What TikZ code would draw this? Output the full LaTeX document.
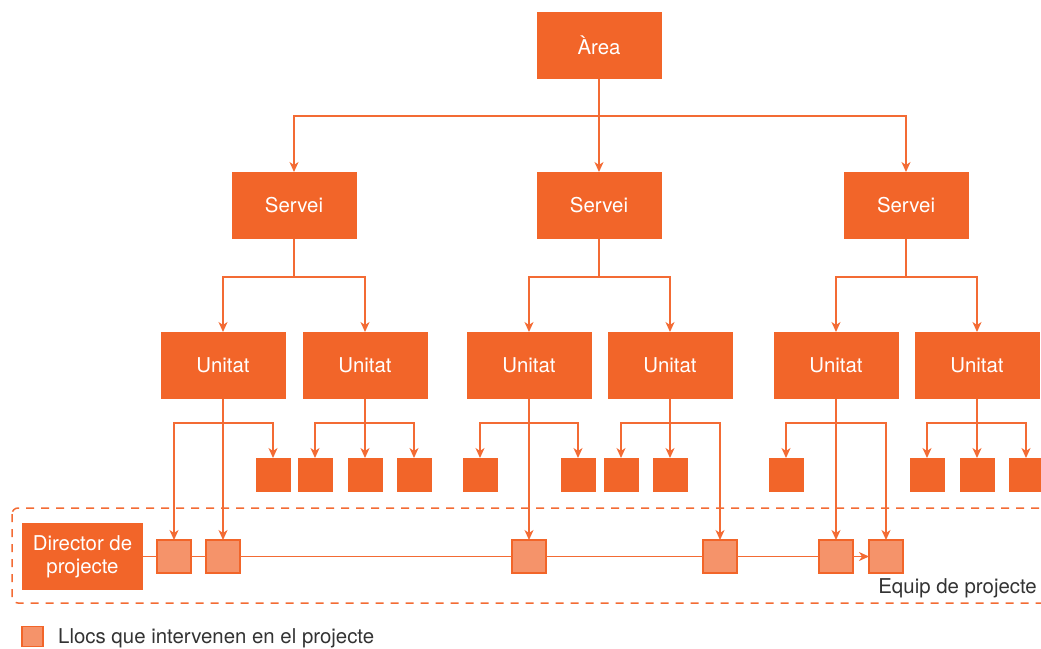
\documentclass[tikz,border=0pt]{standalone}
\usepackage{fontspec}
\setmainfont{TeX Gyre Heros}
\usetikzlibrary{arrows.meta}
\definecolor{org}{HTML}{F26529}
\definecolor{orgline}{HTML}{F36B34}
\definecolor{orglight}{HTML}{F5936A}
\definecolor{txtgray}{HTML}{333333}
\begin{document}
\begin{tikzpicture}[x=1pt,y=-1pt,
  labelfont/.style={font=\fontsize{20.4}{23}\selectfont},
  unitbox/.style={fill=org, minimum width=125pt, minimum height=67pt,
    inner sep=0pt, outer sep=0pt, text=white, labelfont},
  smallbox/.style={fill=org, minimum width=35pt, minimum height=34pt,
    inner sep=0pt, outer sep=0pt},
  projbox/.style={fill=orglight, draw=org, line width=1.2pt,
    minimum width=34pt, minimum height=33pt, inner sep=0pt, outer sep=0pt},
  link/.style={draw=orgline, line width=1.5pt},
  arr/.style={link, -{Stealth[length=10pt,width=9pt,inset=3pt]}},
]
\path[use as bounding box] (0,0) rectangle (1041,648);
\clip (0,0) rectangle (1041,648);

% project team frame
\draw[link, dash pattern=on 8pt off 7pt, rounded corners=6pt]
  (12,508) rectangle (1075,603);

% hierarchy boxes
\node[unitbox] (area) at (599,45.5) {Àrea};
\node[unitbox] (sv1) at (294,205.5) {Servei};
\node[unitbox] (sv2) at (599,205.5) {Servei};
\node[unitbox] (sv3) at (906,205.5) {Servei};
\foreach \n/\x in {u1/223,u2/365,u3/529,u4/670,u5/836,u6/977}
  \node[unitbox] (\n) at (\x,365.5) {Unitat};
\foreach \n/\x in {sb1/273,sb2/315,sb3/365,sb4/414,sb5/480,sb6/578,
                   sb7/621,sb8/670,sb9/786,sb10/927,sb11/977,sb12/1026}
  \node[smallbox] (\n) at (\x,475) {};

% project team
\node[fill=org, minimum width=121pt, minimum height=67pt, inner sep=0pt,
  outer sep=0pt, text=white, align=center, labelfont] (dir) at (82.5,556.5)
  {Director de\\projecte};
\foreach \n/\x in {p1/174,p2/223,p3/529,p4/720,p5/836,p6/886}
  \node[projbox] (\n) at (\x,556.5) {};

% area to services
\draw[arr] (area.south) -- ++(0,37) -| (sv1.north);
\draw[arr] (area.south) -- (sv2.north);
\draw[arr] (area.south) -- ++(0,37) -| (sv3.north);

% services to units
\foreach \s/\a/\b in {sv1/u1/u2, sv2/u3/u4, sv3/u5/u6}{
  \draw[arr] (\s.south) -- ++(0,38) -| (\a.north);
  \draw[arr] (\s.south) -- ++(0,38) -| (\b.north);
}

% units to posts
\draw[arr] (u1.south) -- ++(0,24) -| (p1.north);
\draw[arr] (u1.south) -- ++(0,24) -| (sb1.north);
\draw[arr] (u1.south) -- (p2.north);

\draw[arr] (u2.south) -- ++(0,24) -| (sb2.north);
\draw[arr] (u2.south) -- (sb3.north);
\draw[arr] (u2.south) -- ++(0,24) -| (sb4.north);

\draw[arr] (u3.south) -- ++(0,24) -| (sb5.north);
\draw[arr] (u3.south) -- ++(0,24) -| (sb6.north);
\draw[arr] (u3.south) -- (p3.north);

\draw[arr] (u4.south) -- ++(0,24) -| (sb7.north);
\draw[arr] (u4.south) -- (sb8.north);
\draw[arr] (u4.south) -- ++(0,24) -| (p4.north);

\draw[arr] (u5.south) -- ++(0,24) -| (sb9.north);
\draw[arr] (u5.south) -- (p5.north);
\draw[arr] (u5.south) -- ++(0,24) -| (p6.north);

\draw[arr] (u6.south) -- ++(0,24) -| (sb10.north);
\draw[arr] (u6.south) -- (sb11.north);
\draw[arr] (u6.south) -- ++(0,24) -| (sb12.north);

% project line
\draw[link] (dir.east) -- (p1.west);
\draw[link] (p1.east) -- (p2.west);
\draw[link] (p2.east) -- (p3.west);
\draw[link] (p3.east) -- (p4.west);
\draw[link] (p4.east) -- (p5.west);
\draw[arr] (p5.east) -- (p6.west);

\node[anchor=base east, inner sep=0pt, text=txtgray, labelfont] (team)
  at (1037,593) {Equip de projecte};

% legend
\node[projbox, minimum width=21pt, minimum height=20pt] (key) at (32.5,636.5) {};
\node[anchor=base west, inner sep=0pt, text=txtgray, labelfont] (keytext)
  at (58,643) {Llocs que intervenen en el projecte};
\end{tikzpicture}
\end{document}
